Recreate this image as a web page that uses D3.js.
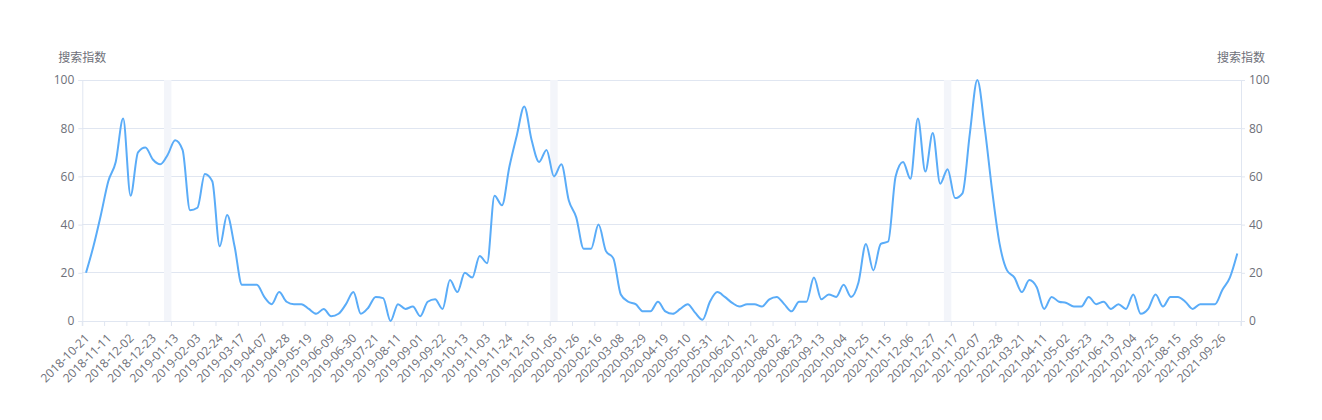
<!DOCTYPE html>
<html><head><meta charset="utf-8">
<script src="https://cdn.jsdelivr.net/npm/d3@7/dist/d3.min.js"></script>
<style>body{margin:0;background:#fff}svg text{font-family:"Open Sans","Noto Sans CJK SC",sans-serif}</style>
</head><body><svg id="c" width="1322" height="420"></svg>
<script>
const dates = [
"2018-10-21","2018-10-28","2018-11-04","2018-11-11","2018-11-18","2018-11-25","2018-12-02","2018-12-09","2018-12-16","2018-12-23","2018-12-30",
"2019-01-06","2019-01-13","2019-01-20","2019-01-27","2019-02-03","2019-02-10","2019-02-17","2019-02-24","2019-03-03","2019-03-10","2019-03-17","2019-03-24","2019-03-31","2019-04-07","2019-04-14","2019-04-21","2019-04-28","2019-05-05","2019-05-12","2019-05-19","2019-05-26","2019-06-02","2019-06-09","2019-06-16","2019-06-23","2019-06-30","2019-07-07","2019-07-14","2019-07-21","2019-07-28","2019-08-04","2019-08-11","2019-08-18","2019-08-25","2019-09-01","2019-09-08","2019-09-15","2019-09-22","2019-09-29","2019-10-06","2019-10-13","2019-10-20","2019-10-27","2019-11-03","2019-11-10","2019-11-17","2019-11-24","2019-12-01","2019-12-08","2019-12-15","2019-12-22","2019-12-29",
"2020-01-05","2020-01-12","2020-01-19","2020-01-26","2020-02-02","2020-02-09","2020-02-16","2020-02-23","2020-03-01","2020-03-08","2020-03-15","2020-03-22","2020-03-29","2020-04-05","2020-04-12","2020-04-19","2020-04-26","2020-05-03","2020-05-10","2020-05-17","2020-05-24","2020-05-31","2020-06-07","2020-06-14","2020-06-21","2020-06-28","2020-07-05","2020-07-12","2020-07-19","2020-07-26","2020-08-02","2020-08-09","2020-08-16","2020-08-23","2020-08-30","2020-09-06","2020-09-13","2020-09-20","2020-09-27","2020-10-04","2020-10-11","2020-10-18","2020-10-25","2020-11-01","2020-11-08","2020-11-15","2020-11-22","2020-11-29","2020-12-06","2020-12-13","2020-12-20","2020-12-27",
"2021-01-03","2021-01-10","2021-01-17","2021-01-24","2021-01-31","2021-02-07","2021-02-14","2021-02-21","2021-02-28","2021-03-07","2021-03-14","2021-03-21","2021-03-28","2021-04-04","2021-04-11","2021-04-18","2021-04-25","2021-05-02","2021-05-09","2021-05-16","2021-05-23","2021-05-30","2021-06-06","2021-06-13","2021-06-20","2021-06-27","2021-07-04","2021-07-11","2021-07-18","2021-07-25","2021-08-01","2021-08-08","2021-08-15","2021-08-22","2021-08-29","2021-09-05","2021-09-12","2021-09-19","2021-09-26","2021-10-03","2021-10-10"];
const searchIndex = [
20,31,44,58,66,84,52,70,72,67,65,69,75,71,46,47,61,58,31,44,
31,15,15,15,10,7,12,8,7,7,5,3,5,2,3,7,12,3,5.5,10,
9.5,0,7,5,6,2,8,9,5,17,12,20,18,27,24,52,48,64,77,89,
75,66,71,60,65,50,43,30,30,40,29,26,11,8,7,4,4,8,4,3,
5,7,3.5,0.5,8,12,10,7.5,6,7,7,6,9,10,7,4,8,8,18,9,
11,10,15,10,16,32,21,32,33,60,66,59,84,62,78,57,63,51,53,78,
100,80,54,32,21,18,12,17,14,5,10,8,7.5,6,6,10,7,8,5,7,
5,11,3,5,11,6,10,10,8,5,7,7,7,13,18,28];
const markDates = ["2019-01-06","2020-01-05","2021-01-10"];
const yTicks = [0,20,40,60,80,100];
const axisName = "搜索指数";
const labelEvery = 3;

const svg = d3.select("#c");
const L = 82.3, R = 1241, T = 80, B = 321;
const x = d3.scaleBand().domain(dates).range([L, R]).paddingInner(0).paddingOuter(0);
const y = d3.scaleLinear().domain([0, 100]).range([B, T]);
const gridC = "#E0E6F1", txtC = "#6E7079";

// grid lines
svg.append("g").selectAll("line").data(yTicks).join("line")
  .attr("x1", L).attr("x2", R).attr("y1", d => y(d)).attr("y2", d => y(d))
  .attr("stroke", gridC).attr("stroke-width", 1).attr("shape-rendering", "crispEdges");

// mark bands
svg.append("g").selectAll("rect").data(markDates).join("rect")
  .attr("x", d => x(d)).attr("width", x.bandwidth()).attr("y", T).attr("height", B - T)
  .attr("fill", "#F3F5FA");

// y axes
const yl = d3.axisLeft(y).tickValues(yTicks).tickSize(4).tickPadding(4);
const gl = svg.append("g").attr("transform", `translate(${L},0)`).call(yl);
const yr = d3.axisRight(y).tickValues(yTicks).tickSize(4).tickPadding(4);
const gr = svg.append("g").attr("transform", `translate(${R},0)`).call(yr);
[gl, gr].forEach(g => {
  g.select(".domain").attr("stroke", gridC);
  g.selectAll(".tick line").attr("stroke", gridC);
  g.selectAll(".tick text").attr("fill", txtC).attr("font-size", 12)
    .style("font-family", '"Open Sans",sans-serif');
});

// x axis
const xa = d3.axisBottom(x).tickValues(dates.filter((d, i) => i % labelEvery === 0)).tickSize(5).tickPadding(3);
const gx = svg.append("g").attr("transform", `translate(0,${B})`).call(xa);
gx.select(".domain").attr("stroke", gridC);
gx.selectAll(".tick line").attr("stroke", gridC).attr("x1", -x.bandwidth() / 2).attr("x2", -x.bandwidth() / 2);
gx.selectAll(".tick text").attr("fill", txtC).attr("font-size", 12)
  .style("font-family", '"Open Sans",sans-serif')
  .attr("x", 0).attr("y", 0)
  .attr("text-anchor", "end").attr("dy", "0.35em")
  .attr("transform", "translate(1,15) rotate(-45)");
gx.append("line").attr("x1", R).attr("x2", R).attr("y1", 0).attr("y2", 5).attr("stroke", gridC);

// axis names
svg.append("text").attr("x", L).attr("y", 62).attr("text-anchor", "middle")
  .attr("fill", txtC).attr("font-size", 12).style("font-family", '"Noto Sans CJK SC",sans-serif').text(axisName);
svg.append("text").attr("x", R).attr("y", 62).attr("text-anchor", "middle")
  .attr("fill", txtC).attr("font-size", 12).style("font-family", '"Noto Sans CJK SC",sans-serif').text(axisName);

// line
const line = d3.line().x((d, i) => x(dates[i]) + x.bandwidth() / 2).y(d => y(d)).curve(d3.curveMonotoneX);
svg.append("path").datum(searchIndex).attr("d", line)
  .attr("fill", "none").attr("stroke", "#5AACF8").attr("stroke-width", 2);
</script></body></html>
